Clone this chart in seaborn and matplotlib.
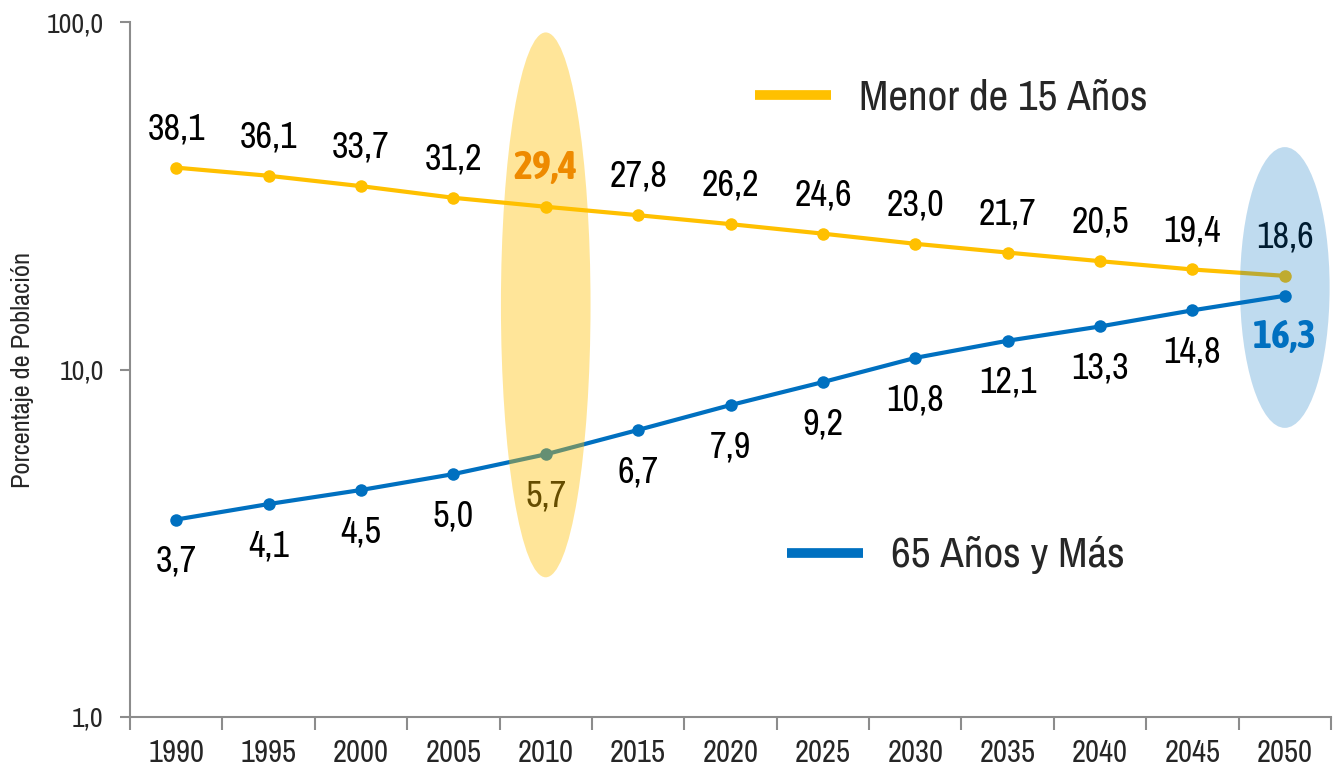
import pandas as pd
import numpy as np
import matplotlib
matplotlib.use("Agg")
import matplotlib.pyplot as plt
import matplotlib.transforms as mtransforms
from matplotlib import font_manager
from matplotlib.patches import Ellipse
from matplotlib.lines import Line2D
import seaborn as sns


# ==========================================
# DATA
# ==========================================

anios = ["1990", "1995", "2000", "2005", "2010", "2015", "2020",
         "2025", "2030", "2035", "2040", "2045", "2050"]

menor_15 = [38.1, 36.1, 33.7, 31.2, 29.4, 27.8, 26.2,
            24.6, 23.0, 21.7, 20.5, 19.4, 18.6]

mayor_65 = [3.7, 4.1, 4.5, 5.0, 5.7, 6.7, 7.9,
            9.2, 10.8, 12.1, 13.3, 14.8, 16.3]

grupos = ["Menor de 15 Años", "65 Años y Más"]

y_ticks = [1, 10, 100]

AMARILLO = "#FFC000"
AZUL = "#0070C0"
NARANJA = "#EE8A00"
GRIS = "#8C8C8C"


def fmt(v):
    return f"{v:.1f}".replace(".", ",")


df = pd.concat([
    pd.DataFrame({"anio": anios, "valor": menor_15, "grupo": grupos[0]}),
    pd.DataFrame({"anio": anios, "valor": mayor_65, "grupo": grupos[1]}),
])

# ==========================================
# FONT (narrow sans if there is one)
# ==========================================


def peso(f):
    w = f.weight
    if isinstance(w, str):
        return 700 if "bold" in w.lower() or "black" in w.lower() else 400
    return w


fuentes = font_manager.fontManager.ttflist
angostas = sorted({f.name for f in fuentes
                   if ("Narrow" in f.name or "Condensed" in f.name)
                   and "Serif" not in f.name and "Mono" not in f.name})

if angostas:
    fuente = [angostas[0], "Liberation Sans", "DejaVu Sans"]
    escala = 1.0
else:
    fuente = ["Liberation Sans", "DejaVu Sans"]
    escala = 0.88

# bold face for the highlighted labels
negritas = [f.name for f in fuentes if f.name in angostas and peso(f) >= 600]
fuente_negrita = [negritas[0]] + fuente if negritas else fuente

# ==========================================
# FIGURE
# ==========================================

sns.set_theme(style="white")
plt.rcParams["font.family"] = fuente

fig = plt.figure(figsize=(13.41, 7.73), dpi=100)
ax = fig.add_axes([130 / 1341, 56 / 773, 1201 / 1341, 695 / 773])

sns.lineplot(
    data=df, x="anio", y="valor", hue="grupo",
    palette={grupos[0]: AMARILLO, grupos[1]: AZUL},
    marker="o", markersize=9, markeredgewidth=0,
    linewidth=3, legend=False, ax=ax, zorder=3
)

ax.set_yscale("log")
ax.set_ylim(1, 100)
ax.set_xlim(-0.5, len(anios) - 0.5)

ax.set_yticks(y_ticks)
ax.set_yticklabels([fmt(t) for t in y_ticks], fontsize=19 * escala + 1)
ax.yaxis.set_minor_locator(matplotlib.ticker.NullLocator())

# ticks between categories, labels at centres
ax.set_xticks(np.arange(-0.5, len(anios), 1.0))
ax.set_xticklabels([])
ax.set_xticks(np.arange(len(anios)), minor=True)
ax.set_xticklabels(anios, minor=True, fontsize=21 * escala + 1)
ax.tick_params(axis="x", which="major", direction="out", length=9,
               width=1.5, color=GRIS, bottom=True)
ax.tick_params(axis="x", which="minor", length=0, pad=16)
ax.tick_params(axis="y", direction="out", length=7, width=1.5,
               color=GRIS, left=True, pad=12)

for side in ["top", "right"]:
    ax.spines[side].set_visible(False)
for side in ["left", "bottom"]:
    ax.spines[side].set_color(GRIS)
    ax.spines[side].set_linewidth(1.5)

ax.set_xlabel("")
ax.set_ylabel("Porcentaje de Población", fontsize=19 * escala)
ax.yaxis.set_label_coords(-0.08, 0.5)

# ------------------------------------------
# DATA LABELS
# ------------------------------------------

series = [
    (menor_15, 28, "2010", NARANJA),
    (mayor_65, -30, "2050", AZUL),
]

for valores, desplazamiento, anio_destacado, color_destacado in series:
    for i, v in enumerate(valores):
        destacado = anios[i] == anio_destacado
        ax.annotate(
            fmt(v), (i, v), xytext=(0, desplazamiento),
            textcoords="offset points",
            ha="center", va="center",
            fontsize=(28 if destacado else 25) * escala + 1,
            color=color_destacado if destacado else "black",
            fontweight="bold" if destacado else "normal",
            family=fuente_negrita if destacado else fuente,
            zorder=6 if destacado else 2
        )

# ------------------------------------------
# HIGHLIGHT ELLIPSES
# ------------------------------------------

trans = mtransforms.blended_transform_factory(ax.transData, ax.transAxes)

ax.add_patch(Ellipse(
    (anios.index("2010"), 0.593), 0.97, 0.784,
    transform=trans, facecolor=AMARILLO, alpha=0.4,
    edgecolor="none", zorder=5
))

ax.add_patch(Ellipse(
    (anios.index("2050"), 0.618), 0.97, 0.404,
    transform=trans, facecolor=AZUL, alpha=0.25,
    edgecolor="none", zorder=5
))

# ------------------------------------------
# LEGEND
# ------------------------------------------

for color, nombre, x0, y0 in [
    (AMARILLO, grupos[0], 755, 95),
    (AZUL, grupos[1], 787, 553),
]:
    fig.add_artist(Line2D(
        [x0 / 1341, (x0 + 76) / 1341], [1 - y0 / 773, 1 - y0 / 773],
        color=color, linewidth=7, solid_capstyle="butt"
    ))
    fig.text(
        (x0 + 104) / 1341, 1 - (y0 + 2) / 773, nombre,
        fontsize=31 * escala, va="center", ha="left"
    )

fig.savefig("out.png", dpi=100)
